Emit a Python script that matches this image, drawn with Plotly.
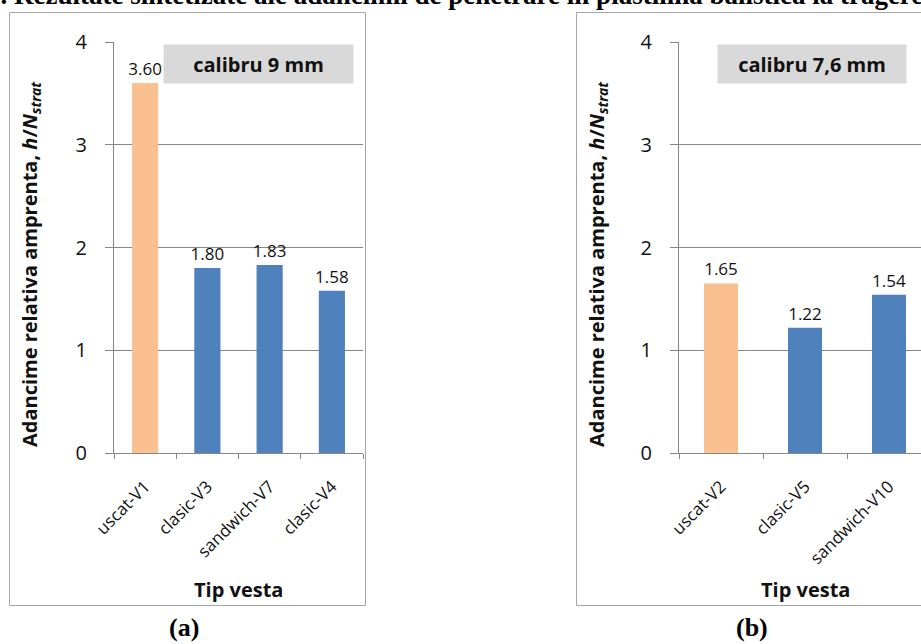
import plotly.graph_objects as go

W, H = 921, 644

cats_a = ["uscat-V1", "clasic-V3", "sandwich-V7", "clasic-V4"]
vals_a = [3.60, 1.80, 1.83, 1.58]
cols_a = ["#FAC090", "#4F81BD", "#4F81BD", "#4F81BD"]

cats_b = ["uscat-V2", "clasic-V5", "sandwich-V10"]
vals_b = [1.65, 1.22, 1.54]
cols_b = ["#FAC090", "#4F81BD", "#4F81BD"]

y_ticks = [0, 1, 2, 3, 4]

FONT = "Open Sans"
GRID = "#878787"
BORDER = "#A6A6A6"


def px(x):
    return x / W


def py(y):
    return 1 - y / H


fig = go.Figure()
fig.add_trace(go.Bar(x=cats_a, y=vals_a, marker=dict(color=cols_a, line=dict(width=0)),
                     width=0.42, text=[f"{v:.2f}" for v in vals_a], textposition="outside",
                     constraintext="none",
                     textfont=dict(family=FONT, size=17, color="#111"), cliponaxis=False,
                     xaxis="x", yaxis="y", showlegend=False))
fig.add_trace(go.Bar(x=cats_b, y=vals_b, marker=dict(color=cols_b, line=dict(width=0)),
                     width=0.405, text=[f"{v:.2f}" for v in vals_b], textposition="outside",
                     constraintext="none",
                     textfont=dict(family=FONT, size=17, color="#111"), cliponaxis=False,
                     xaxis="x2", yaxis="y2", showlegend=False))

ydom = [py(453), py(42)]
xcommon = dict(type="category", tickson="boundaries", ticks="outside", ticklen=5, tickcolor=GRID,
               showline=True, linecolor=GRID, linewidth=1, showgrid=False, tickangle=-45,
               tickfont=dict(family=FONT, size=17, color="#111"), ticklabelstandoff=16,
               fixedrange=True, automargin=False)
ycommon = dict(range=[0, 4], tickvals=y_ticks, ticks="outside", ticklen=8, tickcolor=GRID,
               showline=True, linecolor=GRID, linewidth=1, showgrid=True, gridcolor=GRID,
               gridwidth=1, zeroline=False, tickfont=dict(family=FONT, size=20, color="#111"),
               ticklabelstandoff=14, domain=ydom, fixedrange=True, automargin=False)

fig.update_layout(
    width=W, height=H, margin=dict(l=0, r=0, t=0, b=0, autoexpand=False),
    paper_bgcolor="white", plot_bgcolor="white", bargap=0.5,
    xaxis=dict(domain=[px(114), px(363)], range=[-0.5, 3.5], anchor="y", **xcommon),
    yaxis=dict(anchor="x", **ycommon),
    xaxis2=dict(domain=[px(679), 1], range=[-0.5, -0.5 + (W - 679) / 84], anchor="y2", **xcommon),
    yaxis2=dict(anchor="x2", **ycommon),
)

# panel borders
fig.add_shape(type="rect", xref="paper", yref="paper", x0=px(9.5), x1=px(365.5), y0=py(605.5), y1=py(12.5),
              line=dict(color=BORDER, width=1), fillcolor="rgba(0,0,0,0)", layer="below")
fig.add_shape(type="rect", xref="paper", yref="paper", x0=px(576.5), x1=px(933), y0=py(605.5), y1=py(12.5),
              line=dict(color=BORDER, width=1), fillcolor="rgba(0,0,0,0)", layer="below")

ann = []
# caliber boxes
ann.append(dict(text="<b>calibru 9 mm</b>", x=px(258.5), y=py(64.5), xref="paper", yref="paper",
                showarrow=False, bgcolor="#D9D9D9", width=187, height=36,
                font=dict(family=FONT, size=20, color="#111"), xanchor="center", yanchor="middle"))
ann.append(dict(text="<b>calibru 7,6 mm</b>", x=px(812), y=py(64.5), xref="paper", yref="paper",
                showarrow=False, bgcolor="#D9D9D9", width=186, height=36,
                font=dict(family=FONT, size=20, color="#111"), xanchor="center", yanchor="middle"))
# y titles
ytitle = "<b>Adancime relativa amprenta, <i>h</i>/<i>N<sub>strat</sub></i></b>"
for xc in (30, 597):
    ann.append(dict(text=ytitle, x=px(xc), y=py(264), xref="paper", yref="paper", showarrow=False,
                    textangle=-90, font=dict(family=FONT, size=20, color="#111"),
                    xanchor="center", yanchor="middle"))
# x titles
for xc in (238, 805):
    ann.append(dict(text="<b>Tip vesta</b>", x=px(xc), y=py(589), xref="paper", yref="paper",
                    showarrow=False, font=dict(family=FONT, size=20, color="#111"),
                    xanchor="center", yanchor="middle"))
# panel labels
for xc, lab in ((184, "(a)"), (752, "(b)")):
    ann.append(dict(text=f"<b>{lab}</b>", x=px(xc), y=py(627), xref="paper", yref="paper",
                    showarrow=False, font=dict(family="Liberation Serif", size=26, color="#000"),
                    xanchor="center", yanchor="middle"))
# cropped page title at top
ann.append(dict(text="<b>9. Rezultate sintetizate ale adancimii de penetrare in plastilina balistica la tragerea</b>",
                x=px(-15), y=py(-5), xref="paper", yref="paper", showarrow=False,
                font=dict(family="Liberation Serif", size=27, color="#000"),
                xanchor="left", yanchor="middle"))
fig.update_layout(annotations=ann)

fig.write_html("out.html")
